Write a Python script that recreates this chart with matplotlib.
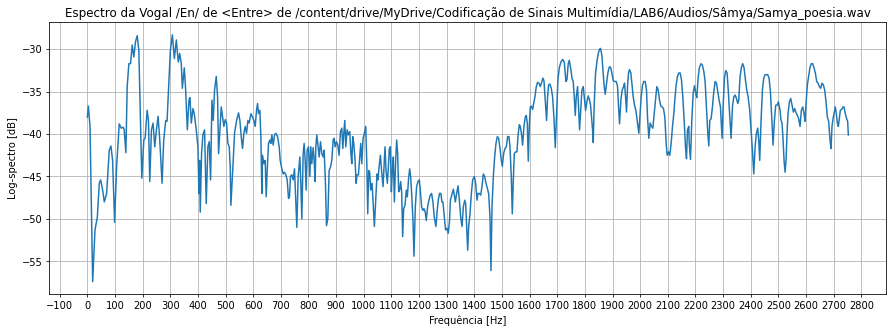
import numpy as np
import matplotlib
matplotlib.use("Agg")
import matplotlib.pyplot as plt
from matplotlib.ticker import MultipleLocator

# log-spectrum, vertex by vertex
freq_hz = [
    0.0, 3.6, 9.6, 19.2, 27.6, 36.0, 43.2, 48.0, 55.3, 61.3, 69.7, 79.3, 85.3, 91.3, 98.5, 105.7,
    115.3, 122.5, 129.7, 133.3, 139.3, 144.1, 150.2, 156.2, 162.2, 168.2, 174.2, 180.2, 186.2, 192.2,
    197.0, 204.2, 209.0, 216.2, 221.0, 225.8, 231.8, 237.8, 243.8, 249.9, 255.9, 261.9, 270.3, 276.3,
    283.5, 288.3, 294.3, 300.3, 307.5, 314.7, 321.9, 325.5, 329.1, 333.9, 339.9, 343.5, 350.8, 355.6,
    361.6, 367.6, 371.2, 376.0, 382.0, 386.8, 394.0, 400.0, 403.6, 406.0, 408.4, 413.2, 418.0, 424.0,
    430.0, 436.0,
    441.0, 445.8, 450.6, 455.4, 460.2, 466.3, 471.1, 474.7, 479.5, 484.3, 489.2, 494.0, 498.8, 503.6,
    508.4, 513.3, 516.9, 519.3, 522.9, 527.7, 532.5, 539.8, 547.0, 551.8, 557.8, 561.4, 566.3, 571.1,
    575.9, 580.7, 585.5, 591.6, 597.6, 602.4, 607.2, 612.0, 615.7, 619.3, 624.1, 627.7, 631.3, 633.7,
    638.6, 643.4, 647.0, 650.6, 655.4, 660.2, 663.9, 667.5, 672.3, 677.1, 681.9, 688.0, 694.0, 697.6,
    703.6, 708.4, 713.3, 718.1, 722.9, 727.7, 731.3, 734.9, 739.8, 744.6, 749.4, 754.2, 757.8, 762.7,
    768.7, 772.3, 775.9, 780.7, 784.3, 788.0, 791.6, 795.2, 800.0, 804.8, 808.4, 812.0, 816.9, 820.5,
    824.1, 826.5, 830.1, 834.9, 838.6, 843.4, 848.2, 853.0, 856.6, 861.4, 865.1, 869.9, 874.7,
    879.5, 884.4, 889.2, 892.8, 896.4, 901.2, 906.0, 910.8, 915.6, 920.5,
    924.1, 927.7, 931.3, 934.9, 939.7, 944.5, 949.3, 953.0, 956.6, 960.2,
    963.8, 968.6, 972.2, 975.8, 980.6, 985.4, 989.1, 992.7, 997.5, 1002.3,
    1007.1, 1010.7, 1014.3, 1017.9, 1021.5, 1025.1, 1030.0, 1033.6, 1038.4, 1043.2,
    1048.0, 1051.6, 1055.2, 1060.1, 1064.9, 1069.7, 1073.3, 1076.9, 1080.5, 1085.3,
    1088.9, 1092.5, 1096.2, 1099.8, 1103.4, 1107.0, 1110.6, 1115.4, 1119.0, 1122.6,
    1126.2, 1129.8, 1133.5, 1137.1, 1140.7, 1144.3, 1149.1, 1153.9, 1157.5, 1162.3,
    1166.0, 1169.6, 1173.2, 1178.0, 1181.6, 1186.4, 1191.2, 1196.0, 1200.9, 1204.5,
    1209.3, 1214.1, 1217.7, 1222.5, 1226.1, 1230.9, 1235.7, 1240.6, 1245.4, 1250.2,
    1255.0, 1261.0, 1265.8, 1269.4, 1274.3, 1279.1, 1282.7, 1286.3, 1291.1, 1295.9,
    1300.7, 1305.5, 1310.3,
    1313.3, 1318.1, 1324.1, 1327.7, 1331.3, 1336.1, 1341.0, 1345.8, 1350.6, 1355.4,
    1360.2, 1365.1, 1368.7, 1372.3, 1375.9, 1379.5, 1384.3, 1389.2, 1394.0, 1400.0,
    1404.8, 1409.6, 1413.3, 1418.1, 1422.9, 1427.7, 1432.5, 1437.3, 1442.2, 1447.0,
    1451.8, 1456.6, 1460.2, 1463.9, 1468.7, 1473.5, 1478.3, 1483.1, 1488.0, 1492.8,
    1497.6, 1501.2, 1506.0, 1510.8, 1515.7, 1520.5, 1525.3, 1528.9, 1533.7, 1537.3,
    1541.0, 1544.6, 1549.4, 1554.2, 1557.8, 1562.6, 1566.3, 1571.1, 1574.7, 1579.5,
    1584.3, 1587.9, 1591.6, 1595.2, 1598.8, 1602.4, 1606.0, 1610.8, 1614.5, 1619.3,
    1624.1, 1628.9, 1633.7, 1638.6, 1643.4, 1648.2, 1651.8, 1656.6, 1661.4, 1665.1,
    1668.7, 1673.5, 1678.3, 1683.1, 1687.9, 1692.8, 1697.6, 1702.4, 1707.2, 1713.3,
    1719.3, 1725.3, 1731.3, 1735.0, 1739.8, 1743.4,
    1749.4, 1753.0, 1757.8, 1761.4, 1765.1, 1768.7, 1773.5, 1777.1, 1780.7, 1785.5,
    1789.2, 1794.0, 1797.6, 1802.4, 1807.2, 1812.0, 1816.9, 1820.5, 1824.1, 1827.7,
    1830.1, 1833.7, 1838.6, 1843.4, 1848.2, 1853.0, 1856.6, 1861.4, 1865.1, 1869.9,
    1873.5, 1878.3, 1883.1, 1888.0, 1892.8, 1897.6, 1902.4, 1907.2, 1913.3, 1918.1,
    1921.7, 1925.3, 1930.1, 1934.9, 1939.8, 1943.4, 1947.0, 1950.6, 1954.2, 1957.8,
    1961.4, 1966.3, 1969.9, 1974.7, 1979.5, 1984.3, 1989.2, 1995.2, 1998.8, 2003.6,
    2008.4, 2013.3, 2018.1, 2022.9, 2026.5, 2031.3, 2036.1, 2041.0, 2045.8, 2050.6,
    2055.4, 2060.2, 2065.1, 2069.9, 2074.7, 2079.5, 2084.3, 2089.2, 2094.0, 2097.6,
    2102.4, 2107.2, 2112.0, 2116.9, 2121.7, 2125.3, 2130.1, 2134.9, 2139.8, 2144.6,
    2149.4, 2154.2, 2159.0, 2163.9, 2167.5, 2171.1, 2175.9,
    2177.1, 2181.9, 2186.7, 2191.6, 2196.4, 2201.2, 2204.8, 2209.6, 2214.5, 2220.5,
    2225.3, 2230.1, 2234.9, 2239.8, 2244.6, 2248.2, 2251.8, 2256.6, 2261.4, 2266.3,
    2271.1, 2275.9, 2280.7, 2285.5, 2290.4, 2292.8, 2296.4, 2300.0, 2304.8, 2309.6,
    2314.5, 2319.3, 2324.1, 2328.9, 2333.7, 2338.6, 2343.4, 2348.2, 2353.0, 2356.6,
    2361.4, 2366.3, 2371.1, 2375.9, 2380.7, 2385.5, 2390.4, 2396.4, 2401.2, 2406.0,
    2410.8, 2415.7, 2420.5, 2425.3, 2428.9, 2432.5, 2437.3, 2442.2, 2447.0, 2451.8,
    2456.6, 2461.4, 2466.3, 2471.1, 2475.9, 2480.7, 2485.5, 2490.4, 2495.2, 2500.0,
    2506.0, 2509.6, 2513.3, 2516.9, 2520.5, 2524.1, 2527.7, 2531.3, 2534.9, 2539.8,
    2544.6, 2549.4, 2554.2, 2559.0, 2563.9, 2568.7, 2573.5, 2578.3, 2583.1, 2588.0,
    2592.8, 2596.4, 2600.0, 2604.8, 2609.6, 2614.5, 2619.3, 2624.1, 2628.9, 2633.7,
    2638.6, 2643.4, 2648.2, 2653.0, 2657.8, 2662.7, 2667.5, 2672.3, 2677.1, 2681.9,
    2686.7, 2690.4, 2694.0, 2697.6, 2702.4, 2706.0, 2709.6, 2713.3, 2716.9, 2720.5,
    2724.1, 2728.9, 2733.7, 2737.3, 2742.2, 2747.0, 2750.6, 2753.0,
]

log_spec_db = [
    -38.0, -36.7, -39.1, -57.4, -51.3, -49.8, -45.8, -45.4, -46.6, -48.0, -47.0, -41.9, -41.4, -43.1, -50.4, -43.9,
    -38.8, -39.3, -39.2, -39.5, -42.2, -34.4, -31.7, -31.7, -29.5, -30.9, -29.1, -28.4, -30.1, -38.4,
    -45.2, -40.7, -40.5, -37.2, -38.4, -45.6, -39.5, -38.7, -41.5, -39.5, -37.9, -40.7, -45.8, -40.7,
    -38.4, -38.5, -34.4, -30.1, -28.3, -31.1, -28.9, -30.3, -31.5, -30.5, -31.7, -34.6, -32.2, -34.8,
    -39.5, -36.0, -35.7, -38.7, -37.0, -37.6, -39.5, -41.5, -47.0, -43.1, -49.2, -42.3, -40.1, -39.5,
    -48.2, -41.5,
    -40.9, -45.4, -36.0, -38.4, -34.8, -33.2, -35.6, -42.3, -39.5, -36.8, -38.0, -39.1, -38.3, -38.7,
    -41.1, -41.5, -43.9, -48.4, -46.2, -43.1, -39.9, -38.4, -37.5, -38.4, -40.7, -41.7, -39.9, -39.1,
    -39.9, -38.4, -38.7, -37.6, -38.0, -38.4, -39.1, -37.2, -36.4, -37.6, -37.2, -40.3, -47.0, -42.5,
    -43.5, -43.1, -47.4, -44.3, -41.1, -40.7, -41.1, -40.1, -41.3, -40.1, -39.9, -40.3, -41.5, -43.1,
    -44.1, -44.7, -44.5, -44.8, -45.4, -47.6, -47.4, -45.0, -44.8, -45.4, -44.1, -48.0, -51.0, -45.0,
    -42.7, -45.8, -50.0, -42.3, -41.1, -43.1, -46.6, -41.9, -41.5, -45.0, -41.5, -43.5, -41.6, -43.1,
    -45.6, -41.5, -40.1, -41.5, -42.7, -40.9, -42.3, -42.7, -41.9, -45.8, -50.8, -50.0, -44.3,
    -43.9, -43.1, -40.7, -40.5, -41.5, -40.9, -41.3, -42.5, -39.7, -39.3,
    -41.7, -39.9, -38.4, -41.5, -39.5, -40.1, -39.7, -42.1, -43.5, -40.3,
    -41.1, -43.1, -45.8, -44.8, -44.8, -42.7, -41.1, -43.5, -40.5, -39.9,
    -39.1, -43.1, -49.4, -44.3, -44.5, -46.6, -45.8, -48.0, -50.9, -47.8,
    -44.7, -45.4, -43.9, -42.5, -44.5, -46.2, -43.9, -41.5, -44.3, -45.8,
    -43.9, -41.7, -41.5, -46.8, -44.3, -42.7, -48.0, -43.1, -40.7, -42.3,
    -46.8, -46.6, -45.6, -46.8, -52.1, -48.8, -48.4, -46.6, -47.4, -45.2,
    -44.1, -45.0, -47.0, -50.2, -54.4, -48.6, -46.2, -45.6, -45.4, -46.6,
    -48.6, -49.0, -48.8, -49.2, -50.2, -48.6, -47.8, -47.2, -47.0, -48.0,
    -49.8, -50.9, -49.0, -47.8, -47.0, -47.0, -48.0, -48.0, -49.6, -51.3,
    -51.1, -51.7, -50.2,
    -47.8, -47.2, -46.5, -47.2, -48.0, -47.0, -46.1, -47.8, -49.8, -50.9,
    -48.6, -47.8, -48.2, -50.9, -53.7, -50.9, -49.4, -47.0, -45.4, -45.0,
    -45.8, -47.8, -47.0, -47.0, -47.2, -46.2, -44.7, -45.0, -45.8, -46.4,
    -47.0, -49.8, -56.1, -48.6, -45.0, -42.7, -41.1, -40.3, -40.5, -41.7,
    -43.1, -43.8, -42.3, -41.7, -41.5, -40.3, -40.3, -41.5, -45.0, -49.4,
    -45.4, -42.3, -42.1, -42.1, -40.3, -38.9, -39.1, -40.1, -41.3, -39.1,
    -38.0, -37.8, -38.7, -43.2, -39.1, -36.8, -36.7, -37.1, -36.4, -35.6,
    -34.4, -33.9, -34.0, -34.4, -33.9, -33.4, -33.7, -36.0, -38.4, -35.6,
    -34.2, -34.1, -34.6, -35.6, -38.0, -41.6, -37.6, -33.6, -32.2, -31.5,
    -31.2, -31.5, -33.8, -33.6, -31.7, -31.3,
    -32.4, -33.4, -33.8, -35.6, -37.8, -35.6, -34.4, -36.8, -39.5, -36.8,
    -34.8, -34.4, -35.6, -37.2, -36.2, -35.5, -36.0, -36.6, -38.0, -39.5,
    -41.0, -36.4, -32.8, -31.5, -30.5, -30.0, -29.9, -30.7, -32.4, -34.4,
    -35.3, -34.0, -32.8, -32.1, -32.1, -32.8, -33.7, -33.8, -33.8, -34.4,
    -36.8, -38.8, -36.0, -34.8, -34.4, -34.0, -35.6, -37.4, -34.4, -32.8,
    -32.4, -32.8, -34.0, -35.6, -36.6, -37.2, -38.4, -39.9, -38.0, -35.6,
    -34.2, -33.8, -33.8, -34.8, -38.0, -40.5, -38.7, -39.1, -39.3, -37.6,
    -36.0, -34.4, -34.8, -36.0, -36.7, -36.8, -37.0, -38.0, -41.1, -42.5,
    -42.1, -42.5, -41.1, -39.1, -37.6, -36.0, -34.2, -33.2, -32.8, -32.8,
    -33.6, -35.6, -38.4, -41.5, -42.9, -39.5, -39.1,
    -40.9, -43.0, -38.4, -35.2, -34.3, -35.2, -35.7, -33.4, -32.1, -31.7,
    -31.9, -32.6, -33.8, -36.8, -39.9, -41.4, -38.4, -38.2, -36.8, -35.0,
    -33.8, -34.0, -35.0, -36.0, -36.8, -38.4, -40.5, -36.8, -33.4, -32.5,
    -32.8, -35.2, -38.0, -40.5, -36.8, -35.6, -35.4, -35.8, -36.4, -36.0,
    -33.2, -32.1, -31.7, -32.2, -33.6, -34.8, -35.6, -37.2, -39.5, -41.9,
    -44.7, -41.5, -39.9, -39.3, -40.7, -43.1, -38.4, -34.8, -33.4, -33.0,
    -33.0, -33.0, -33.4, -35.0, -38.0, -41.3, -38.4, -36.6, -36.6, -36.2,
    -37.2, -38.4, -38.7, -40.7, -43.1, -44.5, -43.1, -39.9, -37.6, -36.2,
    -35.8, -36.6, -37.4, -37.0, -37.5, -37.8, -38.2, -39.1, -37.2, -36.8,
    -37.6, -38.5, -36.4, -34.2, -33.2, -32.1, -31.7, -31.7, -32.2, -32.8,
    -33.8, -34.0, -34.4, -34.6, -34.0, -34.2, -34.8, -36.2, -38.0, -38.5,
    -40.7, -41.7, -39.1, -38.2, -37.4, -36.8, -37.6, -38.7, -39.1, -38.2,
    -37.2, -37.1, -36.8, -36.8, -37.6, -38.2, -38.5, -40.1,
]

title = ("Espectro da Vogal /En/ de <Entre> de /content/drive/MyDrive/"
         "Codificação de Sinais Multimídia/LAB6/Audios/Sâmya/Samya_poesia.wav")

plt.rcParams["font.family"] = ["DejaVu Sans"]

# low dpi so the default font and line sizes scale down like the reference
fig = plt.figure(figsize=(12.6, 4.7), dpi=70.9)
ax = fig.add_axes([0.0552, 0.1171, 0.937, 0.8147])

ax.plot(freq_hz, log_spec_db)
ax.set_title(title)
ax.set_xlabel("Frequência [Hz]")
ax.set_ylabel("Log-spectro [dB]")
ax.xaxis.set_major_locator(MultipleLocator(100))
ax.grid(True)

fig.savefig("out.png", dpi=70.9)
